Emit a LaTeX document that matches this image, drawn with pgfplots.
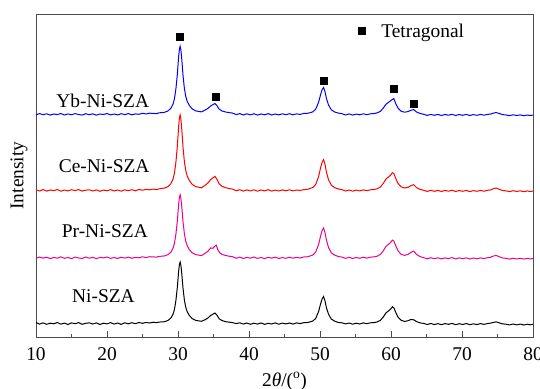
\documentclass[border=0pt]{standalone}
\usepackage{pgfplots}
\pgfplotsset{compat=1.18}
\usepackage{pgfplotstable}
\usepackage{fontspec}
\setmainfont{Liberation Serif}

\pgfplotstableread{
x y
10 14.4
10.5 12.9
11 14.1
11.5 12.7
12 13.8
12.5 13.2
13 14.5
13.5 12.8
14 13.9
14.5 12.5
15 14.1
15.5 13.3
16 14.4
16.5 12.7
17 13.7
17.5 14.2
18 13.0
18.5 14.1
19 12.5
19.5 13.8
20 13.1
20.5 14.4
21 12.9
21.5 14.0
22 12.6
22.5 14.2
23 13.2
23.5 14.3
24 13.3
24.5 14.5
25 13.7
25.5 14.5
26 14.0
26.5 14.8
27 14.3
27.3 14.9
28.1 15.3
28.6 16.6
29.0 19.0
29.3 22.7
29.5 27.6
29.7 36.3
29.9 49.2
30.0 57.8
30.1 66.4
30.2 72.5
30.3 75.0
30.4 71.9
30.5 65.8
30.6 57.8
30.7 49.2
30.9 36.9
31.1 29.5
31.3 25.2
31.6 21.5
32.0 18.4
32.5 16.6
33.3 15.7
33.8 17.2
34.2 18.9
34.6 21.5
34.9 22.8
35.2 24.0
35.5 21.7
35.8 18.2
36.2 16.5
36.7 15.3
37.2 14.9
37.7 14.3
38.2 13.4
38.7 14.2
39.2 12.9
39.7 14.0
40.2 12.7
40.7 13.8
41.2 12.9
41.7 14.1
42.2 12.6
42.7 13.7
43.2 13.0
43.7 14.1
44.2 12.8
44.7 13.9
45.2 13.1
45.7 14.0
46.2 12.9
46.7 14.1
47.2 13.4
47.7 14.3
48.2 14.4
48.5 14.9
49 16.0
49.4 18.6
49.8 25.4
50.1 33.6
50.3 38.1
50.5 40.4
50.7 36.3
50.9 29.4
51.2 22.8
51.6 17.9
52.1 15.7
52.6 14.5
53.1 14.2
53.6 13.1
54.1 14.0
54.6 12.8
55.1 13.8
55.6 13.0
56.1 14.1
56.6 13.3
57.1 14.2
57.6 14.4
58 14.9
58.5 16.6
58.9 19.9
59.3 24.2
59.6 25.8
59.9 27.6
60.2 30.2
60.4 29.2
60.7 24.1
61.0 19.8
61.4 16.9
61.9 15.5
62.4 16.3
62.8 17.5
63.2 17.2
63.6 15.4
64.1 14.1
64.6 13.6
65.1 12.5
65.6 13.5
66.1 12.4
66.6 13.4
67.1 12.3
67.6 13.4
68.1 12.7
68.6 13.6
69.1 12.3
69.6 13.3
70.1 12.5
70.6 13.5
71.1 12.3
71.6 13.2
72.1 12.4
72.6 13.4
73.1 12.6
73.6 13.5
74.0 13.8
74.4 14.6
74.8 15.1
75.2 14.3
75.7 13.1
76.2 12.8
76.7 12.1
77.2 13.0
77.7 12.1
78.2 12.9
78.7 12.0
79.2 12.8
79.6 12.2
80 12.7
}\niszA

\pgfplotstableread{
x y
10 78.6
10.5 80.0
11 78.9
11.5 79.8
12 78.4
12.5 79.6
13 78.8
13.5 80.1
14 78.7
14.5 79.5
15 78.3
15.5 79.9
16 79.0
16.5 78.5
17 80.0
17.5 78.8
18 79.7
18.5 78.4
19 79.6
19.5 79.1
20 80.0
20.5 78.6
21 79.5
21.5 78.5
22 79.8
22.5 78.9
23 79.9
23.5 78.7
24 79.6
24.5 79.2
25 80.2
25.5 79.4
26 80.3
26.5 80.1
27 79.9
27.3 80.5
28.1 81.1
28.6 82.4
29.0 84.9
29.3 88.7
29.5 93.7
29.7 102.5
29.9 115.7
30.0 124.6
30.1 133.4
30.2 139.7
30.3 142.2
30.4 139.1
30.5 132.8
30.6 124.6
30.7 115.7
30.9 103.1
31.1 95.6
31.3 91.2
31.6 87.4
32.0 84.2
32.5 82.4
33.3 81.4
33.8 83.6
34.2 85.7
34.6 89.1
34.9 88.7
35.2 90.8
35.4 91.8
35.6 87.4
35.9 84.0
36.2 82.6
36.7 81.5
37.2 80.8
37.7 80.3
38.2 78.7
38.7 79.9
39.2 78.5
39.7 79.6
40.2 78.8
40.7 80.0
41.2 78.6
41.7 79.5
42.2 78.4
42.7 79.7
43.2 78.9
43.7 79.9
44.2 78.5
44.7 79.4
45.2 78.7
45.7 79.8
46.2 78.8
46.7 79.7
47.2 79.0
47.7 80.0
48.2 80.2
48.5 80.8
49 82.0
49.4 85.0
49.8 92.5
50.1 101.5
50.3 106.6
50.5 109.0
50.7 104.5
50.9 97.0
51.2 89.5
51.6 84.1
52.1 81.7
52.6 80.5
53.1 79.9
53.6 78.6
54.1 79.7
54.6 78.5
55.1 79.5
55.6 78.7
56.1 79.8
56.6 78.9
57.1 79.9
57.6 80.1
58 80.7
58.5 82.5
58.9 86.1
59.3 90.6
59.6 92.4
59.9 94.2
60.2 96.9
60.4 96.0
60.7 90.6
61.0 86.1
61.4 82.9
61.9 81.6
62.4 82.6
62.8 84.6
63.2 85.9
63.6 82.5
64.1 80.4
64.6 79.3
65.1 78.2
65.6 79.3
66.1 78.3
66.6 79.2
67.1 78.1
67.6 79.1
68.1 78.4
68.6 79.4
69.1 78.0
69.6 79.1
70.1 78.3
70.6 79.2
71.1 78.0
71.6 79.0
72.1 78.2
72.6 79.1
73.1 78.4
73.6 79.3
74.0 79.6
74.4 80.9
74.8 81.6
75.2 80.4
75.7 79.1
76.2 78.6
76.7 77.9
77.2 78.8
77.7 78.0
78.2 78.7
78.7 77.9
79.2 78.6
79.6 78.0
80 78.5
}\prnisza

\pgfplotstableread{
x y
10 147.2
10.5 146.0
11 147.4
11.5 145.9
12 147.0
12.5 146.3
13 147.5
13.5 145.8
14 146.9
14.5 146.1
15 147.3
15.5 146.4
16 147.4
16.5 145.9
17 146.8
17.5 147.2
18 146.0
18.5 147.1
19 145.7
19.5 146.9
20 146.2
20.5 147.4
21 146.0
21.5 147.0
22 145.8
22.5 147.2
23 146.3
23.5 147.3
24 146.2
24.5 147.5
25 146.8
25.5 147.6
26 147.2
26.5 147.9
27 147.4
27.3 148.1
28.1 148.9
28.6 150.4
29.0 153.4
29.3 157.9
29.5 164.0
29.7 174.5
29.9 190.4
30.0 201.0
30.1 211.5
30.2 219.1
30.3 222.1
30.4 218.3
30.5 210.8
30.6 201.0
30.7 190.4
30.9 175.3
31.1 166.2
31.3 160.9
31.6 156.4
32.0 152.6
32.5 150.4
33.3 149.2
33.8 151.6
34.2 153.9
34.6 157.3
34.9 159.0
35.2 160.6
35.5 157.5
35.8 153.2
36.2 150.7
36.7 149.3
37.2 148.5
37.7 147.9
38.2 146.2
38.7 147.3
39.2 145.9
39.7 147.1
40.2 146.0
40.7 147.2
41.2 145.8
41.7 147.0
42.2 146.1
42.7 147.3
43.2 145.9
43.7 146.9
44.2 146.0
44.7 147.1
45.2 146.2
45.7 147.2
46.2 146.1
46.7 147.0
47.2 146.5
47.7 147.4
48.2 147.6
48.5 148.3
49 149.5
49.4 152.6
49.8 160.4
50.1 169.7
50.3 174.9
50.5 177.4
50.7 172.8
50.9 165.0
51.2 157.3
51.6 151.7
52.1 149.2
52.6 148.0
53.1 147.3
53.6 146.0
54.1 147.0
54.6 145.8
55.1 146.9
55.6 146.1
56.1 147.1
56.6 146.3
57.1 147.2
57.6 147.5
58 148.1
58.5 149.9
58.9 153.5
59.3 158.0
59.6 159.8
59.9 161.6
60.2 164.3
60.4 163.4
60.7 158.0
61.0 153.5
61.4 150.3
61.9 149.0
62.4 149.7
62.8 151.3
63.2 152.3
63.6 149.4
64.1 147.6
64.6 146.7
65.1 145.6
65.6 146.7
66.1 145.7
66.6 146.6
67.1 145.5
67.6 146.6
68.1 145.8
68.6 146.8
69.1 145.5
69.6 146.5
70.1 145.7
70.6 146.6
71.1 145.4
71.6 146.4
72.1 145.7
72.6 146.6
73.1 145.8
73.6 146.7
74.0 147.0
74.4 148.2
74.8 149.0
75.2 147.8
75.7 146.6
76.2 146.1
76.7 145.4
77.2 146.3
77.7 145.5
78.2 146.2
78.7 145.3
79.2 146.1
79.6 145.5
80 146.0
}\cenisza

\pgfplotstableread{
x y
10 222.1
10.5 223.4
11 222.3
11.5 223.2
12 221.9
12.5 223.0
13 222.4
13.5 223.5
14 222.0
14.5 223.1
15 222.2
15.5 223.4
16 222.5
16.5 221.9
17 223.3
17.5 222.3
18 223.2
18.5 221.8
19 223.0
19.5 222.5
20 223.5
20.5 222.1
21 223.0
21.5 222.0
22 223.3
22.5 222.4
23 223.4
23.5 222.2
24 223.1
24.5 222.7
25 223.7
25.5 223.0
26 223.8
26.5 223.6
27 223.4
27.3 224.1
28.1 224.7
28.6 226.1
29.0 228.8
29.3 232.9
29.5 238.3
29.7 247.9
29.9 262.1
30.0 271.7
30.1 281.2
30.2 288.0
30.3 290.7
30.4 287.3
30.5 280.5
30.6 271.7
30.7 262.1
30.9 248.5
31.1 240.4
31.3 235.6
31.6 231.5
32.0 228.1
32.5 226.1
33.3 225.1
33.8 226.9
34.2 228.5
34.6 231.0
34.9 232.3
35.2 233.5
35.5 231.2
35.8 227.9
36.2 226.0
36.7 225.0
37.2 224.4
37.7 223.9
38.2 222.4
38.7 223.4
39.2 222.0
39.7 223.2
40.2 222.1
40.7 223.3
41.2 221.9
41.7 223.0
42.2 222.2
42.7 223.4
43.2 222.0
43.7 223.0
44.2 222.1
44.7 223.2
45.2 222.3
45.7 223.3
46.2 222.2
46.7 223.1
47.2 222.6
47.7 223.5
48.2 223.7
48.5 224.1
49 225.2
49.4 227.9
49.8 234.7
50.1 242.8
50.3 247.3
50.5 249.5
50.7 245.5
50.9 238.7
51.2 232.0
51.6 227.1
52.1 224.9
52.6 223.9
53.1 223.3
53.6 222.0
54.1 223.1
54.6 221.9
55.1 222.9
55.6 222.2
56.1 223.2
56.6 222.3
57.1 223.2
57.6 223.5
58 224.0
58.5 225.6
58.9 228.8
59.3 232.8
59.6 234.4
59.9 236.0
60.2 237.6
60.4 238.4
60.7 232.8
61.0 228.8
61.4 225.9
61.9 224.8
62.4 225.4
62.8 226.7
63.2 227.4
63.6 225.0
64.1 223.5
64.6 222.7
65.1 221.6
65.6 222.6
66.1 221.7
66.6 222.6
67.1 221.5
67.6 222.5
68.1 221.8
68.6 222.7
69.1 221.5
69.6 222.5
70.1 221.7
70.6 222.6
71.1 221.5
71.6 222.4
72.1 221.7
72.6 222.6
73.1 221.8
73.6 222.6
74.0 222.9
74.4 223.8
74.8 224.5
75.2 223.6
75.7 222.4
76.2 222.0
76.7 221.4
77.2 222.2
77.7 221.5
78.2 222.1
78.7 221.3
79.2 222.0
79.6 221.5
80 221.9
}\ybnisza

\pgfplotstableread{
x y
30.3 300
35.3 240
50.5 256
60.4 248
63.2 233
}\tetra

\begin{document}
\begin{tikzpicture}[font=\fontsize{19.5}{23}\selectfont]
\useasboundingbox (0,0) rectangle (540bp,389bp);
\begin{axis}[
  at={(36bp,52bp)}, anchor=south west,
  scale only axis, width=497bp, height=323bp,
  xmin=10, xmax=80, ymin=0, ymax=323,
  xtick={10,20,...,80}, minor x tick num=1,
  xtick pos=lower, tick align=inside,
  major tick length=6bp, minor tick length=3bp,
  ytick=\empty,
  axis line style={black!70, line width=0.8pt},
  every tick/.style={black!70, line width=0.8pt},
  /pgf/number format/assume math mode=true,
  xticklabel style={anchor=base, yshift=-23bp},
  xlabel={2\textit{θ}/(\textsuperscript{o})},
  xlabel style={at={(axis description cs:0.5,0)}, anchor=base, yshift=-49bp},
  ylabel={Intensity},
  ylabel style={at={(axis description cs:-0.034,0.5)}, anchor=center},
  legend style={at={(rel axis cs:0.642,0.947)}, anchor=west, draw=none, fill=none, column sep=14bp},
  legend cell align=left,
]
\addplot[black, line width=1pt, forget plot] table[x=x,y=y] {\niszA};
\addplot[magenta, line width=1pt, forget plot] table[x=x,y=y] {\prnisza};
\addplot[red, line width=1pt, forget plot] table[x=x,y=y] {\cenisza};
\addplot[blue, line width=1pt, forget plot] table[x=x,y=y] {\ybnisza};
\addplot[only marks, mark=square*, mark size=3.5bp, black] table[x=x,y=y] {\tetra};
\addlegendentry{Tetragonal}
\node[anchor=base] at (axis cs:19.4,229) {Yb-Ni-SZA};
\node[anchor=base] at (axis cs:19.6,164) {Ce-Ni-SZA};
\node[anchor=base] at (axis cs:19.7,99) {Pr-Ni-SZA};
\node[anchor=base] at (axis cs:19.5,34) {Ni-SZA};
\end{axis}
\end{tikzpicture}
\end{document}
